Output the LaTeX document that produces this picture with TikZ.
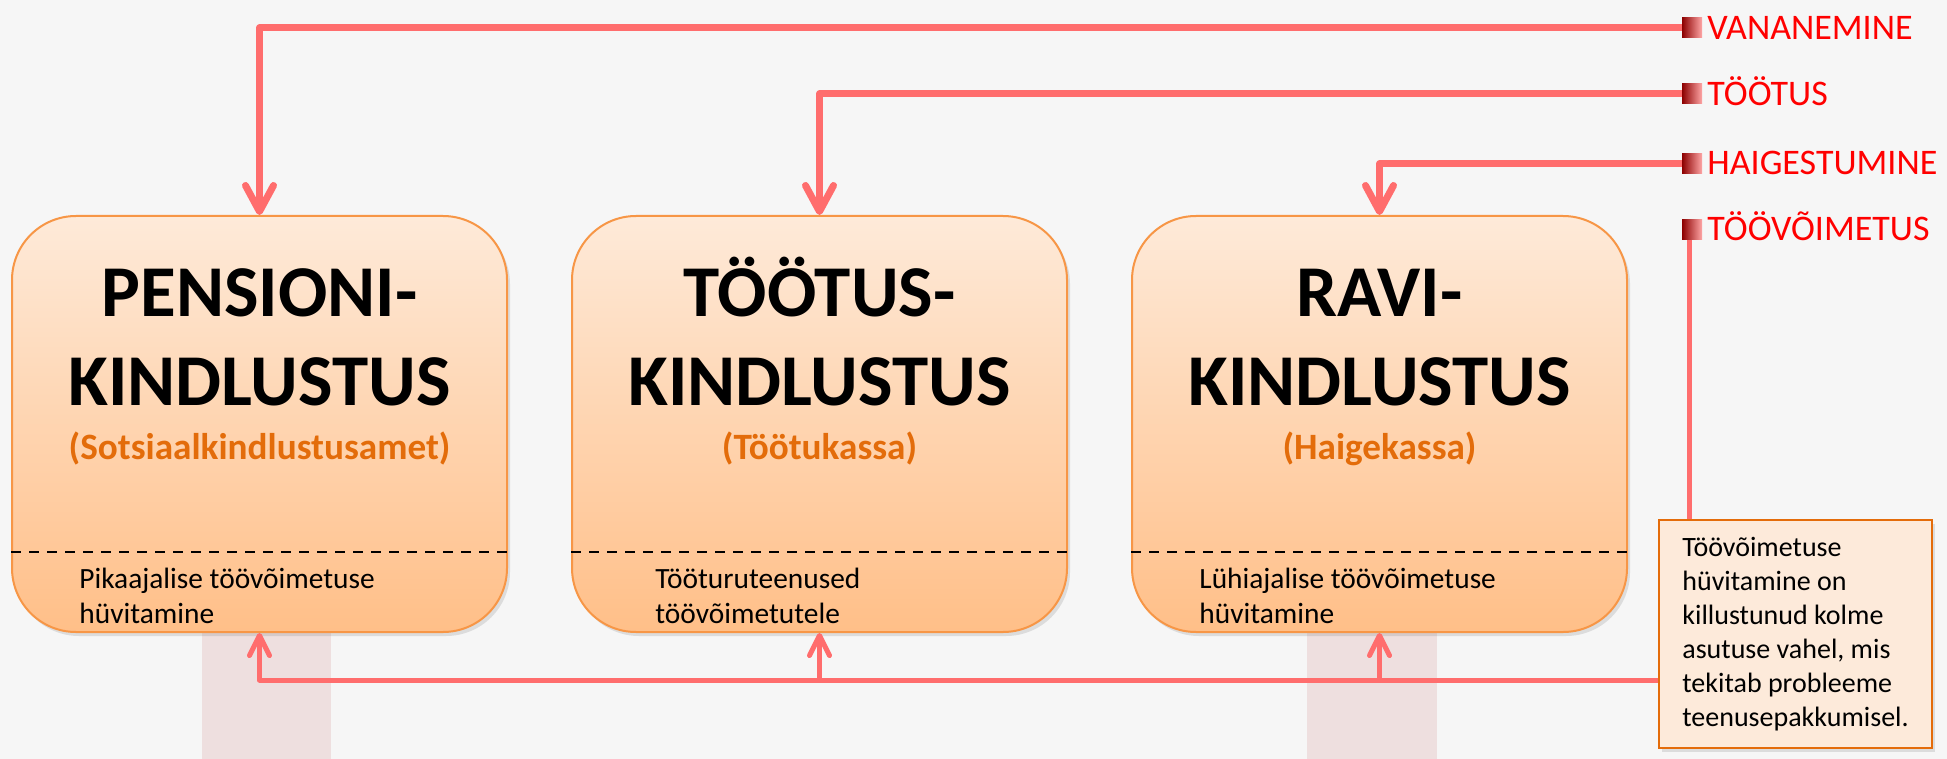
\documentclass[tikz,border=0pt]{standalone}
\usepackage{fontspec}
\setmainfont{Carlito}
\usetikzlibrary{arrows.meta,shadows}

\definecolor{bggray}{HTML}{F6F6F6}
\definecolor{boxtop}{HTML}{FEEAD9}
\definecolor{boxbot}{HTML}{FFBF88}
\definecolor{boxline}{HTML}{F79646}
\definecolor{suborange}{HTML}{E36C0A}
\definecolor{linkred}{HTML}{FF6D6D}
\definecolor{barpink}{HTML}{EEDFDF}
\definecolor{notefill}{HTML}{FDEADA}
\definecolor{noteline}{HTML}{E46C0A}

\tikzset{
	insbox/.style={draw=boxline, line width=1pt, top color=boxtop, bottom color=boxbot,
		rounded corners=32pt, minimum width=247.5pt, minimum height=208pt, inner sep=0pt,
		drop shadow={opacity=0.22, shadow xshift=1.5pt, shadow yshift=-2pt}},
	ttl/.style={font=\fontsize{36.5}{44}\selectfont\bfseries, anchor=base, inner sep=0pt},
	subttl/.style={font=\fontsize{18.6}{22}\selectfont\bfseries, text=suborange, anchor=base, inner sep=0pt},
	lowtxt/.style={font=\fontsize{14.7}{17.5}\selectfont, align=left, anchor=base west, inner sep=0pt},
	redsq/.style={minimum size=10pt, inner sep=0pt, left color=red!55!black, middle color=red, right color=red!35!white},
	lbl/.style={font=\fontsize{18}{22}\selectfont, text=red, anchor=base west, inner sep=0pt},
	feed/.style={draw=linkred, line width=3.5pt, line join=round, -{Straight Barb[length=13pt,width=14pt,round]}},
	uplink/.style={draw=linkred, line width=2.5pt, line join=round, -{Straight Barb[length=10pt,width=10pt,round]}},
	divline/.style={draw=black, line width=1pt, dash pattern=on 5pt off 4pt},
	notebox/.style={draw=noteline, line width=1pt, fill=notefill, minimum width=136.5pt, minimum height=114pt,
		align=left, font=\fontsize{14}{17}\selectfont,
		drop shadow={opacity=0.22, shadow xshift=1.5pt, shadow yshift=-2pt}}
}

\begin{document}
\begin{tikzpicture}[x=0.5pt, y=-0.5pt]
		%%%%% START %%%%%
		
		\useasboundingbox (0,0) rectangle (1947,759);
		\fill[bggray] (0,0) rectangle (1947,759);
		
		\fill[barpink] (202,600) rectangle (331,759);
		\fill[barpink] (1307,600) rectangle (1437,759);
		
		\node[insbox] (pens) at (259.5,424) {};
		\node[insbox] (tootus) at (819.5,424) {};
		\node[insbox] (ravi) at (1379.5,424) {};
		
		\coordinate (dl) at (0,552);
		\draw[divline] (pens.west |- dl) -- (pens.east |- dl);
		\draw[divline] (tootus.west |- dl) -- (tootus.east |- dl);
		\draw[divline] (ravi.west |- dl) -- (ravi.east |- dl);
		
		\node[ttl] (pensA) at (259.5,316) {PENSIONI-};
		\node[ttl] (pensB) at (259.5,405) {KINDLUSTUS};
		\node[subttl] (pensC) at (259.5,459) {(Sotsiaalkindlustusamet)};
		\node[lowtxt] (pensD) at (79,623) {Pikaajalise töövõimetuse\\hüvitamine};
		
		\node[ttl] (tootA) at (819.5,316) {TÖÖTUS-};
		\node[ttl] (tootB) at (819.5,405) {KINDLUSTUS};
		\node[subttl] (tootC) at (819.5,459) {(Töötukassa)};
		\node[lowtxt] (tootD) at (655,623) {Tööturuteenused\\töövõimetutele};
		
		\node[ttl] (raviA) at (1379.5,316) {RAVI-};
		\node[ttl] (raviB) at (1379.5,405) {KINDLUSTUS};
		\node[subttl] (raviC) at (1379.5,459) {(Haigekassa)};
		\node[lowtxt] (raviD) at (1199,623) {Lühiajalise töövõimetuse\\hüvitamine};
		
		\node[redsq] (mkA) at (1692,28) {};
		\node[redsq] (mkB) at (1692,94) {};
		\node[redsq] (mkC) at (1692,164) {};
		\node[redsq] (mkD) at (1692,230) {};
		\node[lbl] (vanan) at (1707,40) {VANANEMINE};
		\node[lbl] (toot) at (1707,106) {TÖÖTUS};
		\node[lbl] (haig) at (1707,175) {HAIGESTUMINE};
		\node[lbl] (toov) at (1707,241) {TÖÖVÕIMETUS};
		
		\node[notebox] (note) at (1795.5,634) {Töövõimetuse\\hüvitamine on\\killustunud kolme\\asutuse vahel, mis\\tekitab probleeme\\teenusepakkumisel.};
		
		\draw[feed] (mkA.west) -| (pens.north);
		\draw[feed] (mkB.west) -| (tootus.north);
		\draw[feed] (mkC.west) -| (ravi.north);
		\draw[draw=linkred, line width=2.5pt] ([xshift=-1.5pt]mkD.south) -- ([xshift=-1.5pt]mkD.south |- note.north);
		
		\coordinate (bj) at (0,680);
		\draw[uplink] (note.west |- bj) -| (pens.south);
		\draw[uplink] (tootus.south |- bj) -- (tootus.south);
		\draw[uplink] (ravi.south |- bj) -- (ravi.south);
		
		%%%%% END %%%%%
\end{tikzpicture}
\end{document}
